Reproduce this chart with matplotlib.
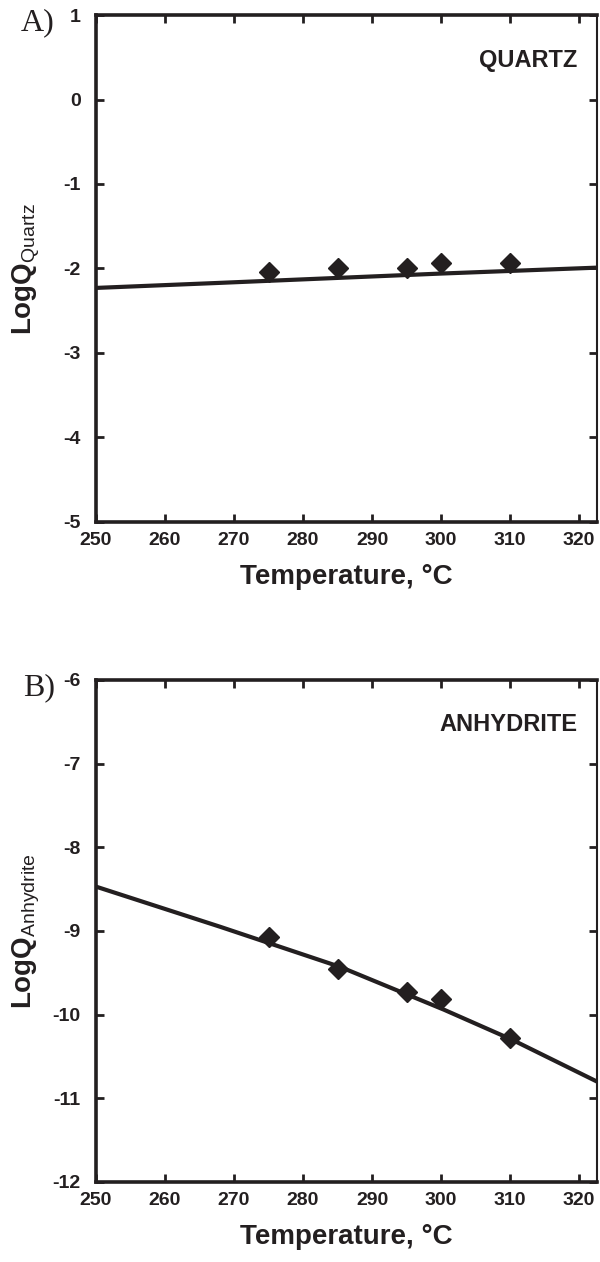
import numpy as np
import matplotlib.pyplot as plt

plt.rcParams['font.family'] = ['Liberation Sans', 'DejaVu Sans']
plt.rcParams['mathtext.fontset'] = 'custom'
plt.rcParams['mathtext.rm'] = 'Liberation Sans'
plt.rcParams['mathtext.default'] = 'rm'
plt.rcParams['axes.unicode_minus'] = False

ink = '#231f20'

# panel A: quartz
temp_q = [275, 285, 295, 300, 310]
logq_q = [-2.04, -1.99, -1.99, -1.94, -1.93]
fit_t_q = [250, 268, 300, 322.6]
fit_q = [-2.23, -2.17, -2.06, -1.99]

# panel B: anhydrite
temp_a = [275, 285, 295, 300, 310]
logq_a = [-9.07, -9.45, -9.73, -9.81, -10.28]
fit_t_a = [250, 268, 285.4, 300.4, 310.3, 322.6]
fit_a = [-8.47, -8.95, -9.43, -9.94, -10.30, -10.80]

xticks = [250, 260, 270, 280, 290, 300, 310, 320]

fig = plt.figure(figsize=(6, 12.62), dpi=100)
ax1 = fig.add_axes([0.16, 0.5864, 0.835, 0.4017])
ax2 = fig.add_axes([0.16, 0.0634, 0.835, 0.3978])


def style(ax, ylim, sub, name, tag):
    ax.set_xlim(250, 322.6)
    ax.set_ylim(*ylim)
    ax.set_xticks(xticks)
    ax.set_yticks(np.arange(ylim[0], ylim[1] + 1, 1))
    ax.tick_params(direction='in', length=6, width=2, color=ink,
                   top=True, right=True, labelsize=14, labelcolor=ink)
    ax.tick_params(axis='y', pad=11)
    ax.tick_params(axis='x', pad=7)
    for lab in ax.get_xticklabels() + ax.get_yticklabels():
        lab.set_fontweight('bold')
    for side in ['left', 'bottom', 'top']:
        ax.spines[side].set_linewidth(2.6)
        ax.spines[side].set_color(ink)
    ax.spines['right'].set_linewidth(1.5)
    ax.spines['right'].set_color(ink)
    ax.set_xlabel('Temperature, °C', fontsize=20, fontweight='bold', color=ink, labelpad=11)
    ax.set_ylabel('LogQ$_{\\mathrm{' + sub + '}}$', fontsize=20, fontweight='bold', color=ink)
    ax.yaxis.set_label_coords(-0.108, 0.5)
    ax.text(0.96, 0.911, name, transform=ax.transAxes, ha='right', va='center',
            fontsize=17, fontweight='bold', color=ink)
    ax.text(-0.082, 0.985, tag, transform=ax.transAxes, ha='right', va='center',
            fontsize=23, family='Liberation Serif', color=ink)


ax1.plot(fit_t_q, fit_q, color=ink, lw=3, solid_capstyle='butt')
ax1.plot(temp_q, logq_q, 'D', color=ink, ms=10.5, zorder=3)
style(ax1, (-5, 1), 'Quartz', 'QUARTZ', 'A)')

ax2.plot(fit_t_a, fit_a, color=ink, lw=3, solid_capstyle='butt')
ax2.plot(temp_a, logq_a, 'D', color=ink, ms=10.5, zorder=3)
style(ax2, (-12, -6), 'Anhydrite', 'ANHYDRITE', 'B)')

fig.savefig('out.png', dpi=100)
